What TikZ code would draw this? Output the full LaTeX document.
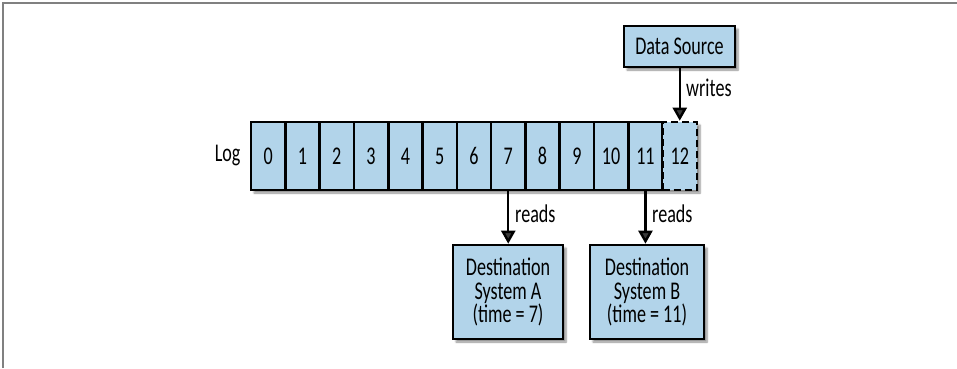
\documentclass[tikz,border=0pt]{standalone}
\usepackage{fontspec}
\setmainfont{Carlito}[FakeStretch=0.71]
\usetikzlibrary{shadows.blur,arrows.meta}
\definecolor{cellblue}{RGB}{178,212,234}
\tikzset{
  txt/.style={font=\fontsize{25.5}{23.5}\selectfont},
  cell/.style={txt, draw=black, line width=2.6pt, fill=cellblue, minimum width=34.3pt, minimum height=68pt, inner sep=0pt, anchor=center},
  box/.style={txt, draw=black, line width=2.6pt, fill=cellblue, inner sep=0pt, align=center,
    blur shadow={shadow xshift=3pt, shadow yshift=-3pt, shadow blur steps=6, shadow opacity=45}},
  conn/.style={line width=2.4pt, -{Triangle[length=13pt,width=14pt]}},
  lbl/.style={txt, inner sep=0pt, anchor=west},
  rowshadow/.style={blur shadow={shadow xshift=3pt, shadow yshift=-3pt, shadow blur steps=6, shadow opacity=45}}
}
\begin{document}
\begin{tikzpicture}[x=1pt,y=-1pt]
\useasboundingbox (0,0) rectangle (957,368);
\draw[gray, line width=1.5pt] (3,368) -- (3,3) -- (957,3);
% shadow under the log row
\path[rowshadow] (251,122) rectangle (697,190);
\foreach \i in {0,...,11}{
  \node[cell] (c\i) at ({251+34.3*(\i+0.5)},156) {\i};
}
\node[cell, dashed, dash pattern=on 7pt off 4pt] (c12) at ({251+34.3*12.5},156) {12};
\node[txt, inner sep=0pt, anchor=east] (loglbl) at ([xshift=-9pt]c0.west) {Log};
% boxes
\node[box, minimum width=111pt, minimum height=41pt] (src) at (679.5,46.5) {Data Source};
\node[box, minimum width=110pt, minimum height=94pt] (dstA) at (508,292) {Destination\\System A\\(time = 7)};
\node[box, minimum width=114pt, minimum height=94pt] (dstB) at (647,292) {Destination\\System B\\(time = 11)};
% connectors
\draw[conn] (src.south -| c12.north) -- (c12.north);
\draw[conn] (c7.south) -- (c7.south |- dstA.north);
\draw[conn] (c11.south) -- (c11.south |- dstB.north);
% labels
\node[lbl] (wlbl) at (686,88) {writes};
\node[lbl] (rA) at (515,214) {reads};
\node[lbl] (rB) at (652,214) {reads};
\end{tikzpicture}
\end{document}
